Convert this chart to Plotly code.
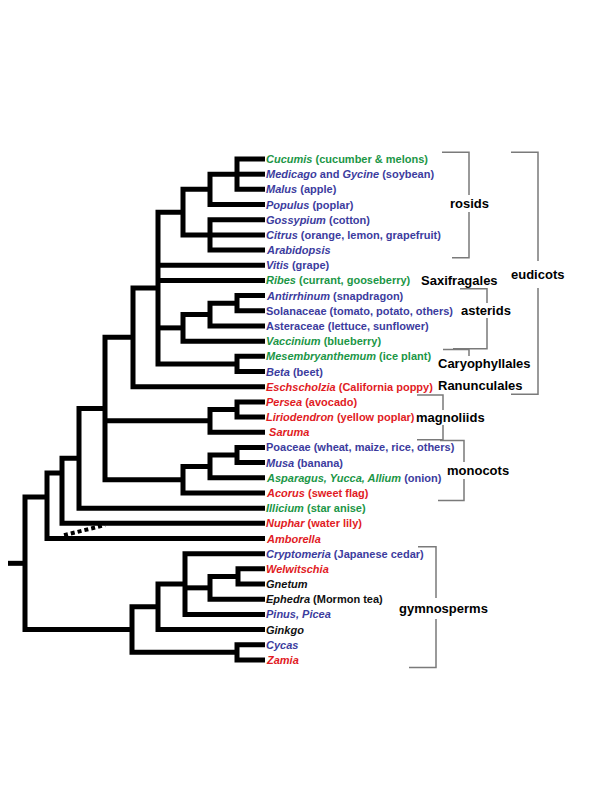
import plotly.graph_objects as go

# ---------------- data ----------------
leaf_labels = [
    "<i>Cucumis</i> (cucumber &amp; melons)",
    "<i>Medicago</i> and <i>Gycine</i> (soybean)",
    "<i>Malus</i> (apple)",
    "<i>Populus</i> (poplar)",
    "<i>Gossypium</i> (cotton)",
    "<i>Citrus</i> (orange, lemon, grapefruit)",
    "<i>Arabidopsis</i>",
    "<i>Vitis</i> (grape)",
    "<i>Ribes</i> (currant, gooseberry)",
    "<i>Antirrhinum</i> (snapdragon)",
    "Solanaceae (tomato, potato, others)",
    "Asteraceae (lettuce, sunflower)",
    "<i>Vaccinium</i> (blueberry)",
    "<i>Mesembryanthemum</i> (ice plant)",
    "<i>Beta</i> (beet)",
    "<i>Eschscholzia</i> (California poppy)",
    "<i>Persea</i> (avocado)",
    "<i>Liriodendron</i> (yellow poplar)",
    "\u00a0<i>Saruma</i>",
    "Poaceae (wheat, maize, rice, others)",
    "<i>Musa</i> (banana)",
    "<i>Asparagus, Yucca, Allium</i>| (onion)",
    "<i>Acorus</i> (sweet flag)",
    "<i>Illicium</i> (star anise)",
    "<i>Nuphar</i> (water lily)",
    "<i>Amborella</i>",
    "<i>Cryptomeria</i> (Japanese cedar)",
    "<i>Welwitschia</i>",
    "<i>Gnetum</i>",
    "<i>Ephedra</i> (Mormon tea)",
    "<i>Pinus, Picea</i>",
    "<i>Ginkgo</i>",
    "<i>Cycas</i>",
    "<i>Zamia</i>",
]
leaf_groups = ["G", "B", "B", "B", "B", "B", "B", "B", "G", "B", "B", "B", "G",
               "G", "B", "R", "R", "R", "R", "B", "B", "G|B", "R", "G", "R", "R",
               "B", "R", "K", "K", "B", "K", "B", "R"]

node_names = ["n_cmm", "n_cmmp", "n_gca", "rosids", "n_as", "n_asa", "asterids",
              "caryo", "core", "eudicots", "n_pl", "magnoliids", "n_pm", "n_pma",
              "monocots", "mesangio", "n_ill", "n_nup", "angio", "n_wg", "n_wge",
              "n_conif", "n_cg", "n_cz", "gymno", "root"]
node_children = [
    [0, 1, 2],
    ["n_cmm", 3],
    [4, 5, 6],
    ["n_cmmp", "n_gca"],
    [9, 10],
    ["n_as", 11],
    ["n_asa", 12],
    [13, 14],
    ["rosids", 7, 8, "asterids", "caryo"],
    ["core", 15],
    [16, 17],
    ["n_pl", 18],
    [19, 20],
    ["n_pm", 21],
    ["n_pma", 22],
    ["eudicots", "magnoliids", "monocots"],
    ["mesangio", 23],
    ["n_ill", 24],
    ["n_nup", 25],
    [27, 28],
    ["n_wg", 29],
    [26, "n_wge", 30],
    ["n_conif", 31],
    [32, 33],
    ["n_cg", "n_cz"],
    ["angio", "gymno"],
]
node_depths = [237, 210, 210, 183, 237, 210, 183, 237, 158, 133, 237, 210, 237,
               210, 183, 105, 79, 62, 47, 238, 210, 185, 158, 237, 132, 25]
node_row_override = {"n_nup": 20.69, "angio": 22.27}
leaf_depth = 265
root_stem_start = 0

# uncertain placement (dotted) link: from node to node, at rows
dotted_nodes = ["n_nup", "mesangio"]
dotted_rows = [24.78, 24.12]

clade_names = ["rosids", "eudicots", "Saxifragales", "asterids", "Caryophyllales",
               "Ranunculales", "magnoliids", "monocots", "gymnosperms"]
clade_first = [0, 0, 8, 9, 13, 15, 16, 19, 26]
clade_last = [6, 15, 8, 12, 14, 15, 18, 22, 33]

# ---------------- layout constants ----------------
PAGE_MARGIN = 8          # default body margin of the html page
FIG_W, FIG_H = 600 - PAGE_MARGIN, 800 - PAGE_MARGIN
ROW0, ROWH = 159.0, 15.18
group_colors = {"G": "#1b9646", "B": "#3c3c9e", "R": "#e11b24", "K": "#111111"}

bracket_x = [469, 538, None, 487, 469, None, 443, 464, 436]
bracket_arm_top = [442, 511, None, 460, 443, None, 417, 440, 418]
bracket_arm_bot = [452, 511, None, 453, None, None, 417, 438, 409]
label_x = [469, 537, 459, 486, 484, 480, 450, 478, 443]
label_row = [2.95, 7.6, 8.0, 10.0, 13.5, 14.95, 17.05, 20.5, 29.6]
label_pad = [1, 6, 0, 0, 0, 0, 0, 1, 3]
label_bg = [True, True, False, True, True, False, True, True, True]

# ---------------- compute tree geometry ----------------
depth = dict(zip(node_names, node_depths))
children = dict(zip(node_names, node_children))
row = {}


def cx(c):
    return leaf_depth if isinstance(c, int) else depth[c]


def cy(c):
    return float(c) if isinstance(c, int) else row[c]


for name in node_names:
    ch = children[name]
    row[name] = node_row_override.get(name, (cy(ch[0]) + cy(ch[-1])) / 2.0)

xs, ys = [], []


def add(px, py):
    xs.extend(list(px) + [None])
    ys.extend(list(py) + [None])


for name in node_names:
    ch = children[name]
    nx = depth[name]
    f, l = ch[0], ch[-1]
    add([cx(f), nx, nx, cx(l)], [cy(f), cy(f), cy(l), cy(l)])
    for c in ch[1:-1]:
        add([nx, cx(c)], [cy(c), cy(c)])
add([root_stem_start, depth["root"]], [row["root"], row["root"]])

fig = go.Figure()
fig.add_trace(go.Scatter(x=xs, y=ys, mode="lines",
                         line=dict(color="black", width=5),
                         hoverinfo="skip", showlegend=False))

fig.add_trace(go.Scatter(x=[depth[dotted_nodes[0]] + 2, depth[dotted_nodes[1]]],
                         y=dotted_rows, mode="lines",
                         line=dict(color="black", width=4, dash="4px,3px"),
                         hoverinfo="skip", showlegend=False))

bx, by = [], []
for i in range(len(clade_names)):
    if bracket_x[i] is None:
        continue
    top = clade_first[i] - 0.45
    x0 = bracket_x[i]
    if bracket_arm_bot[i] is None:
        bx += [bracket_arm_top[i], x0, x0, None]
        by += [top, top, label_row[i], None]
    else:
        bot = clade_last[i] + 0.5
        bx += [bracket_arm_top[i], x0, x0, bracket_arm_bot[i], None]
        by += [top, top, bot, bot, None]
fig.add_trace(go.Scatter(x=bx, y=by, mode="lines",
                         line=dict(color="#7a7a7a", width=1.5),
                         hoverinfo="skip", showlegend=False))

annotations = []
for i, name in enumerate(clade_names):
    annotations.append(dict(
        x=label_x[i], y=label_row[i], xref="x", yref="y", text="<b>" + name + "</b>",
        showarrow=False, xanchor="center", yanchor="middle",
        font=dict(family="Liberation Sans, Arial, sans-serif", size=13, color="black"),
        bgcolor="white" if label_bg[i] else None, borderpad=label_pad[i], borderwidth=0))

for i, lab in enumerate(leaf_labels):
    parts = lab.split("|")
    groups = leaf_groups[i].split("|")
    txt = "".join("<span style='color:%s'>%s</span>" % (group_colors[g], p)
                  for p, g in zip(parts, groups))
    annotations.append(dict(
        x=leaf_depth + 1, y=i, xref="x", yref="y", text="<b>" + txt + "</b>",
        showarrow=False, xanchor="left", yanchor="middle",
        font=dict(family="Liberation Sans, Arial, sans-serif", size=11,
                  color=group_colors[groups[0]]),
        borderpad=0, borderwidth=0))

fig.update_layout(
    width=FIG_W, height=FIG_H,
    margin=dict(l=0, r=0, t=0, b=0),
    paper_bgcolor="white", plot_bgcolor="white",
    xaxis=dict(range=[PAGE_MARGIN, 600], visible=False, fixedrange=True),
    yaxis=dict(range=[(800 - ROW0) / ROWH, (PAGE_MARGIN - ROW0) / ROWH],
               visible=False, fixedrange=True),
    annotations=annotations,
    showlegend=False,
)

fig.write_html("out.html")
